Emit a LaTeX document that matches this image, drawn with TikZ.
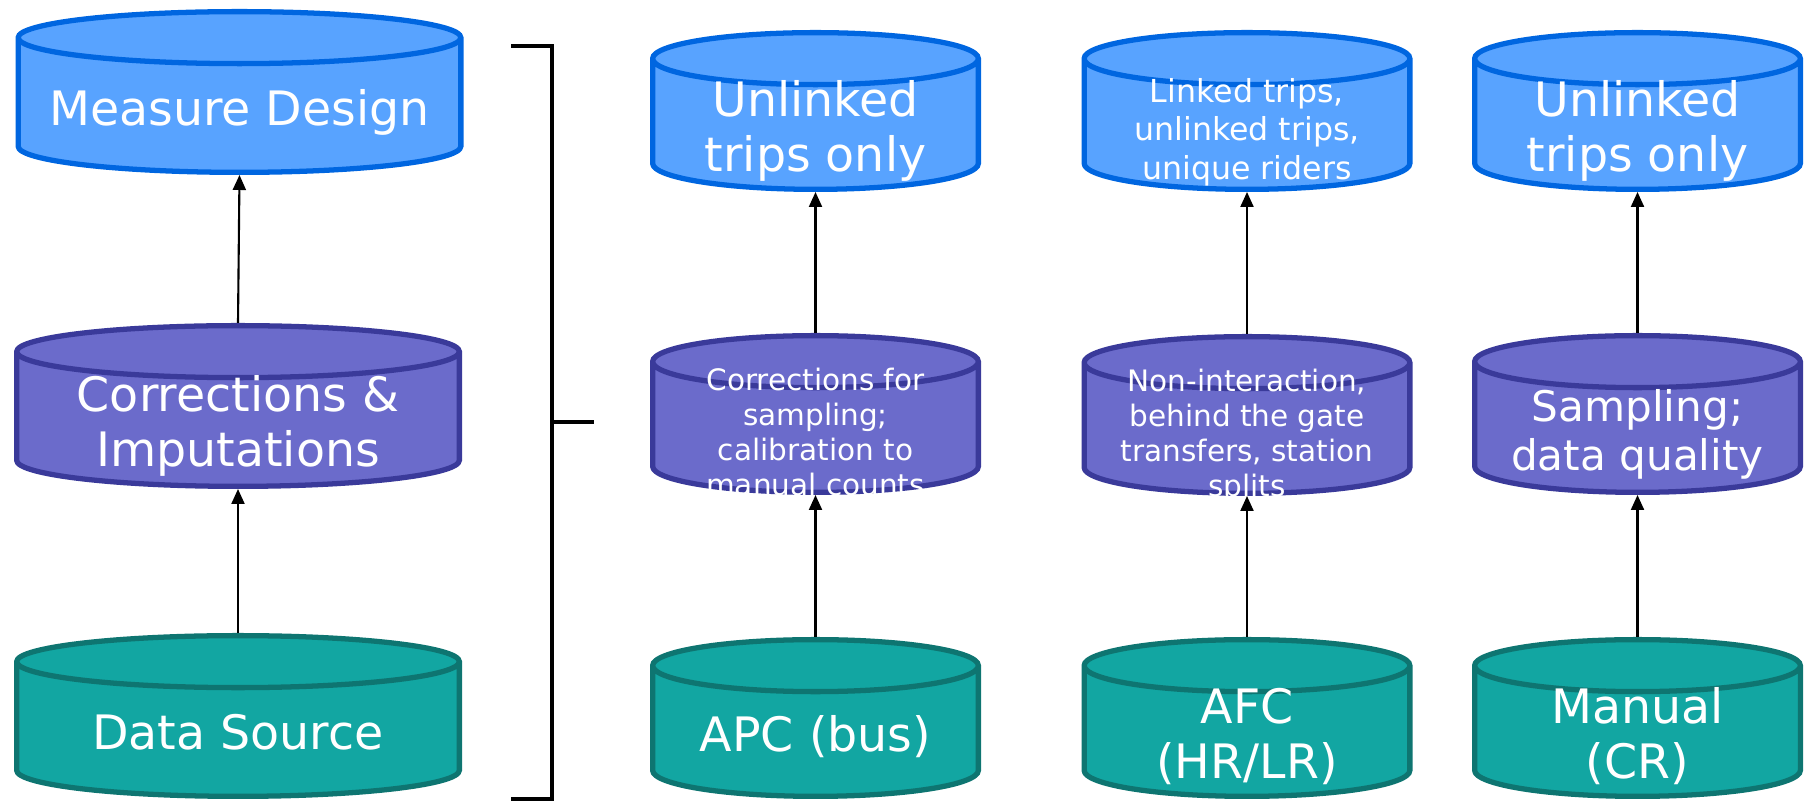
\documentclass[tikz,border=0pt]{standalone}
\usepackage{fontspec}
\setmainfont{DejaVu Sans}
\usetikzlibrary{calc,arrows.meta}
\definecolor{designfill}{HTML}{58A3FF}
\definecolor{designline}{HTML}{0066E0}
\definecolor{fixfill}{HTML}{6B6BCB}
\definecolor{fixline}{HTML}{3A3A9A}
\definecolor{srcfill}{HTML}{12A6A2}
\definecolor{srcline}{HTML}{0E7571}
\newcommand\lines[1]{\raisebox{-0.22cm}[0pt][0pt]{\vbox to 0pt{\vss\hbox to 0pt{\hss\begin{tabular}{@{}c@{}}#1\end{tabular}\hss}\vss}}}
\tikzset{
  drum/.style 2 args={rectangle, inner sep=0pt, outer sep=0pt, text=white,
    path picture={
      \path let \p1=(path picture bounding box.south west),
                \p2=(path picture bounding box.north east),
                \n1={(\x2-\x1)/2-0.75pt}, \n2={0.26cm} in
        [fill=#1, draw=#2, line width=1.5pt]
        (\x1+0.75pt,\y2-0.75pt-\n2) -- (\x1+0.75pt,\y1+0.75pt+\n2)
        arc[start angle=180, end angle=360, x radius=\n1, y radius=\n2]
        -- (\x2-0.75pt,\y2-0.75pt-\n2)
        arc[start angle=0, end angle=180, x radius=\n1, y radius=\n2] -- cycle
        (\x1+0.75pt,\y2-0.75pt-\n2)
        arc[start angle=180, end angle=360, x radius=\n1, y radius=\n2];
    }},
  design/.style={drum={designfill}{designline}},
  fix/.style={drum={fixfill}{fixline}},
  source/.style={drum={srcfill}{srcline}},
  wide/.style={minimum width=4.48cm, minimum height=1.66cm},
  narrow/.style={minimum width=3.31cm, minimum height=1.62cm},
  big/.style={font=\fontsize{13.5}{15.7}\selectfont},
  mid/.style={font=\fontsize{12}{14.1}\selectfont},
  small/.style={font=\fontsize{8.4}{10}\selectfont},
  smallish/.style={font=\fontsize{9}{11}\selectfont},
  link/.style={-{Triangle[length=0.15cm,width=0.13cm]}, line width=0.6pt},
}
\begin{document}
\begin{tikzpicture}
\useasboundingbox (0,0) rectangle (18.1,-8.01);
% generic scheme
\node[design,wide,big] (md) at (2.395,-0.92) {\lines{Measure Design}};
\node[fix,wide,big] (ci) at (2.38,-4.06) {\lines{Corrections \&\\Imputations}};
\node[source,wide,big] (ds) at (2.38,-7.16) {\lines{Data Source}};
\draw[link] (ds.north) -- (ci.south);
\draw[link] (ci.north) -- (md.south);

% bracket
\draw[line width=1.4pt] (5.11,-0.46) -- (5.52,-0.46) -- (5.52,-7.99) -- (5.11,-7.99);
\draw[line width=1.4pt] (5.52,-4.22) -- (5.94,-4.22);

% bus
\node[design,narrow,big] (bustop) at (8.155,-1.11) {\lines{Unlinked\\trips only}};
\node[fix,narrow,small] (busfix) at (8.155,-4.14) {\lines{Corrections for\\sampling;\\calibration to\\manual counts}};
\node[source,narrow,big] (apc) at (8.155,-7.18) {\lines{APC (bus)}};
\draw[link] (apc.north) -- (busfix.south);
\draw[link] (busfix.north) -- (bustop.south);

% rail fare cards
\node[design,narrow,smallish] (railtop) at (12.47,-1.11) {\lines{Linked trips,\\unlinked trips,\\unique riders}};
\node[fix,narrow,small] (railfix) at (12.47,-4.15) {\lines{Non-interaction,\\behind the gate\\transfers, station\\splits}};
\node[source,narrow,big] (afc) at (12.47,-7.18) {\lines{AFC\\(HR/LR)}};
\draw[link] (afc.north) -- (railfix.south);
\draw[link] (railfix.north) -- (railtop.south);

% commuter rail
\node[design,narrow,big] (crtop) at (16.375,-1.11) {\lines{Unlinked\\trips only}};
\node[fix,narrow,mid] (crfix) at (16.375,-4.14) {\lines{Sampling;\\data quality}};
\node[source,narrow,big] (manual) at (16.375,-7.18) {\lines{Manual\\(CR)}};
\draw[link] (manual.north) -- (crfix.south);
\draw[link] (crfix.north) -- (crtop.south);
\end{tikzpicture}
\end{document}
